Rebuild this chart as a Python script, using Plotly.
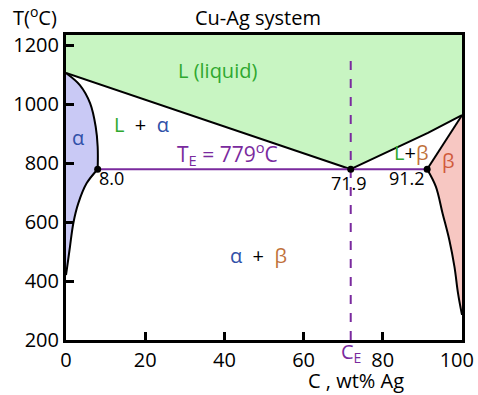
import plotly.graph_objects as go

# ---- data (wt% Ag, temperature in °C) ----
liq_left_x = [0, 71.9]
liq_left_T = [1105, 779]
liq_right_x = [71.9, 91.4, 100]
liq_right_T = [779, 902, 962]
sol_alpha_x = [0, 3.5, 6.1, 7.5, 8.0, 8.0]
sol_alpha_T = [1105, 1064, 1002, 923, 855, 779]
solv_alpha_x = [8.0, 5.2, 3.1, 1.85, 1.0, 0.3, 0]
solv_alpha_T = [779, 731, 663, 596, 516, 448, 420]
sol_beta_x = [100, 91.2]
sol_beta_T = [962, 779]
solv_beta_x = [91.2, 93.4, 95.1, 96.8, 98.1, 99.0, 100]
solv_beta_T = [779, 720, 629, 539, 448, 358, 285]
T_top = 1234
eut_x = [8.0, 71.9, 91.2]
eut_T = 779
x_ticks = [0, 20, 40, 60, 80, 100]
x_tick_text = ["0", "20", "40", "60", "80", "100\u00a0\u00a0"]
y_ticks = [200, 400, 600, 800, 1000, 1200]

GREEN_FILL = "#c8f5c2"
ALPHA_FILL = "#c9c9f5"
BETA_FILL = "#f7c7c2"
PURPLE = "#7a2a9e"
TXT_GREEN = "#2fa82f"
TXT_BLUE = "#3050a8"
TXT_BROWN = "#c0703a"
TXT_RED = "#d05a3a"
FONT = "Open Sans"

fig = go.Figure()

# liquid region
lx = liq_left_x + liq_right_x[1:] + [100, 0]
lT = liq_left_T + liq_right_T[1:] + [T_top, T_top]
fig.add_trace(go.Scatter(x=lx, y=lT, fill="toself", fillcolor=GREEN_FILL,
                         line=dict(width=0), mode="lines", hoverinfo="skip"))
# alpha region
ax_ = sol_alpha_x + solv_alpha_x[1:]
aT = sol_alpha_T + solv_alpha_T[1:]
fig.add_trace(go.Scatter(x=ax_, y=aT, fill="toself", fillcolor=ALPHA_FILL,
                         line=dict(width=0, shape="spline"), mode="lines", hoverinfo="skip"))
# beta region
bx = sol_beta_x + solv_beta_x[1:]
bT = sol_beta_T + solv_beta_T[1:]
fig.add_trace(go.Scatter(x=bx, y=bT, fill="toself", fillcolor=BETA_FILL,
                         line=dict(width=0), mode="lines", hoverinfo="skip"))

# boundaries
for xs, ts, shp in [(liq_left_x, liq_left_T, "linear"),
                    (liq_right_x, liq_right_T, "linear"),
                    (sol_alpha_x, sol_alpha_T, "spline"),
                    (solv_alpha_x, solv_alpha_T, "spline"),
                    (sol_beta_x, sol_beta_T, "linear"),
                    (solv_beta_x, solv_beta_T, "spline")]:
    fig.add_trace(go.Scatter(x=xs, y=ts, mode="lines",
                             line=dict(color="black", width=2, shape=shp), hoverinfo="skip"))

# eutectic line
fig.add_trace(go.Scatter(x=[eut_x[0], eut_x[2]], y=[eut_T, eut_T], mode="lines",
                         line=dict(color=PURPLE, width=2), hoverinfo="skip"))
# eutectic composition dashed
fig.add_trace(go.Scatter(x=[eut_x[1], eut_x[1]], y=[200, 1155], mode="lines",
                         line=dict(color=PURPLE, width=2, dash="dash"), hoverinfo="skip"))
# points
fig.add_trace(go.Scatter(x=eut_x, y=[eut_T] * 3, mode="markers",
                         marker=dict(color="black", size=7), hoverinfo="skip"))

def ann(x, y, text, size=20, color="black", xref="x", yref="y", **kw):
    fig.add_annotation(x=x, y=y, xref=xref, yref=yref, text=text, showarrow=False,
                       xanchor="center", yanchor="middle",
                       font=dict(family=FONT, size=size, color=color), **kw)

def sp(t, c):
    return f'<span style="color:{c}">{t}</span>'

ann(38.2, 1115, "L (liquid)", color=TXT_GREEN)
ann(19, 929, sp("L", TXT_GREEN) + "  +  " + sp("α", TXT_BLUE))
ann(3, 885, "α", color=TXT_BLUE)
ann(40.8, 832, "T<sub>E</sub> = 779<sup>o</sup>C", color=PURPLE, size=21)
ann(11.4, 749, "8.0", size=18)
ann(71.4, 732, "71.9", size=18)
ann(86, 749, "91.2", size=18)
ann(87, 836, sp("L", TXT_GREEN) + "+" + sp("β", TXT_BROWN))
ann(96.5, 810, "β", color=TXT_RED)
ann(48.6, 485, sp("α", TXT_BLUE) + "  +  " + sp("β", TXT_BROWN))
ann(71.9, -0.04, "C<sub>E</sub>", color=PURPLE, yref="paper")
ann(0.732, -0.134, "C , wt% Ag", xref="paper", yref="paper")
ann(0.485, 1.059, "Cu-Ag system", xref="paper", yref="paper")
ann(-0.078, 1.062, "T(<sup>o</sup>C)", xref="paper", yref="paper")

axis_common = dict(showgrid=False, zeroline=False, showline=True, linecolor="black",
                   linewidth=3, mirror=True, ticks="inside", ticklen=8, tickwidth=3,
                   tickcolor="black", ticklabeloverflow="allow", automargin=False,
                   tickfont=dict(family=FONT, size=20, color="black"))
fig.update_xaxes(range=[0, 100], tickvals=x_ticks, ticktext=x_tick_text, **axis_common)
fig.update_yaxes(range=[200, T_top], tickvals=y_ticks, **axis_common)

fig.update_layout(width=478, height=395, showlegend=False,
                  margin=dict(l=66, r=16, t=35, b=55, autoexpand=False),
                  paper_bgcolor="white", plot_bgcolor="white")
fig.write_html("out.html", config={"displayModeBar": False},
               post_script="document.body.style.margin='0';document.body.style.overflow='hidden';")
